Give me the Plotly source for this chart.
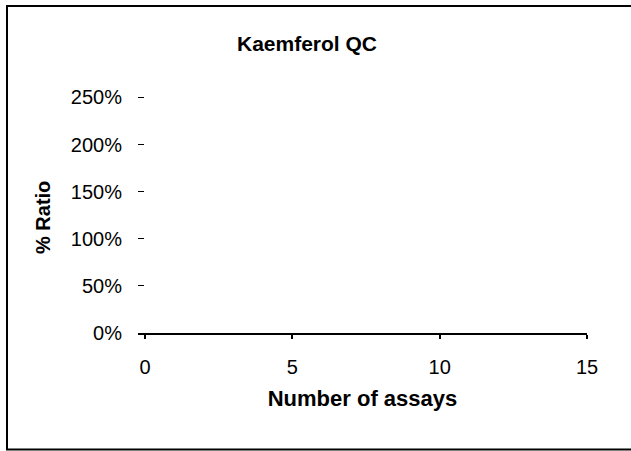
import plotly.graph_objects as go

x_ticks = [0, 5, 10, 15]
y_ticks = [0, 0.5, 1.0, 1.5, 2.0, 2.5]
y_tick_labels = ["0%", "50%", "100%", "150%", "200%", "250%"]
assays = []
ratios = []

W, H = 631, 451
Y_TOP = 2.6  # a little above 250% so the top tick is drawn
PX_PER_UNIT_Y = (333 - 97.5) / 2.5
L, R, B = 138, 44, 118
T = round(333 - Y_TOP * PX_PER_UNIT_Y)

fig = go.Figure()
fig.add_trace(go.Scatter(x=assays, y=ratios, mode="markers", showlegend=False))

font = dict(family="Liberation Sans, Arial, sans-serif", color="black")

fig.update_layout(
    width=W, height=H,
    margin=dict(l=L, r=R, t=T, b=B, autoexpand=False),
    paper_bgcolor="white", plot_bgcolor="white",
    font=dict(size=20, **font),
    title=dict(text="<b>Kaemferol QC</b>", x=307 / W, xanchor="center",
               y=1 - 44 / H, yanchor="middle", font=dict(size=21, **font)),
    xaxis=dict(range=[-7 / (442 / 15), 15], tickvals=x_ticks, ticks="outside",
               ticklen=4, tickwidth=1.5, tickcolor="black", showline=True,
               linecolor="black", linewidth=2, showgrid=False, zeroline=False,
               tickfont=dict(size=20, **font), ticklabelstandoff=11,
               title=dict(text="<b>Number of assays</b>", standoff=14,
                          font=dict(size=22, **font))),
    yaxis=dict(range=[0, Y_TOP], tickvals=y_ticks, ticktext=y_tick_labels,
               ticks="inside", ticklen=6, tickwidth=1, tickcolor="black",
               showline=False, showgrid=False, zeroline=False,
               tickfont=dict(size=20, **font), ticklabelstandoff=15),
)

pw, ph = W - L - R, H - T - B
def px(x):
    return (x - L) / pw
def py(y):
    return (H - B - y) / ph

# y-axis title placed like the reference
fig.add_annotation(text="<b>% Ratio</b>", xref="paper", yref="paper",
                   x=px(43), y=py(218), xanchor="center", yanchor="middle",
                   textangle=-90, showarrow=False, font=dict(size=20, **font))

# outer chart border (right side runs past the picture edge, as in the reference)
border = dict(color="black", width=2)
fig.add_shape(type="line", xref="paper", yref="paper", x0=px(7), x1=px(7),
              y0=py(5), y1=py(450), line=border, layer="above")
fig.add_shape(type="line", xref="paper", yref="paper", x0=px(6), x1=px(640),
              y0=py(6), y1=py(6), line=border, layer="above")
fig.add_shape(type="line", xref="paper", yref="paper", x0=px(6), x1=px(640),
              y0=py(449.5), y1=py(449.5), line=border, layer="above")

fig.write_html("out.html", config={"displayModeBar": False},
               post_script="document.body.style.margin='0';")
